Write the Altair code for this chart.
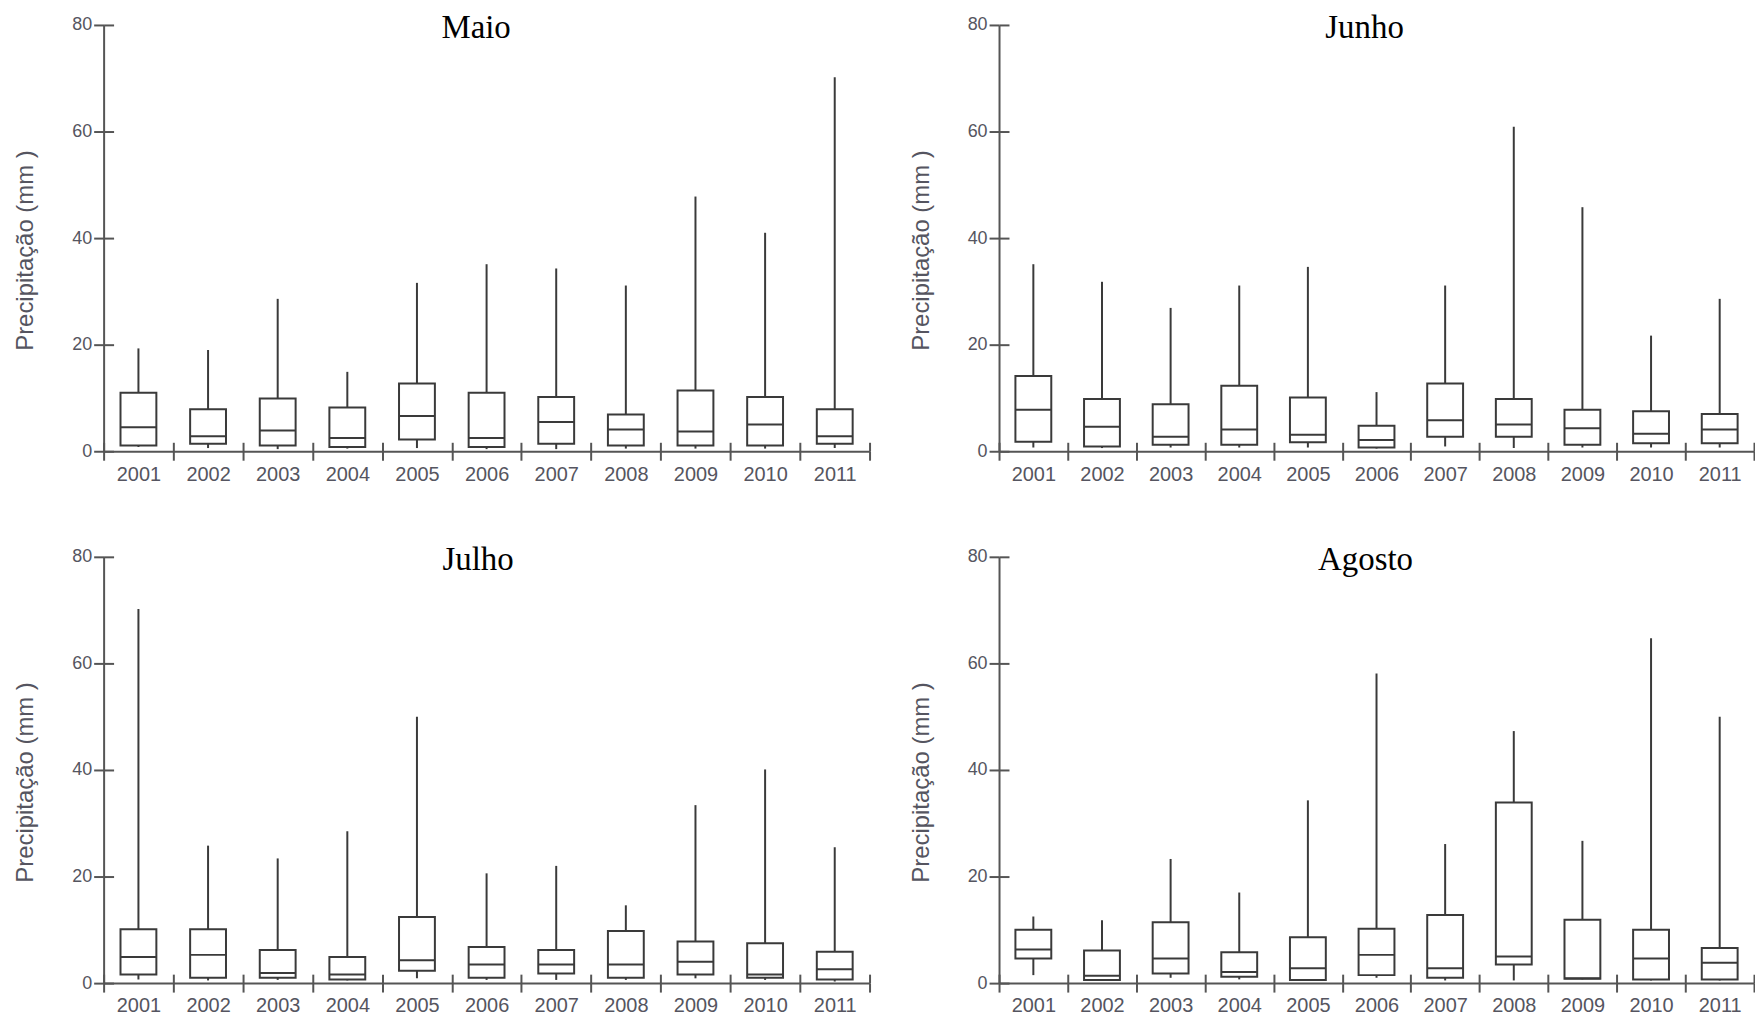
import altair as alt
import pandas as pd

years = [str(y) for y in range(2001, 2012)]
y_ticks = [0, 20, 40, 60, 80]
y_title = "Precipitação  (mm )"

maio_hi = [19.3, 19.0, 28.6, 14.9, 31.6, 35.1, 34.3, 31.1, 47.8, 41.0, 70.2]
maio_q3 = [11.0, 7.9, 9.9, 8.2, 12.7, 11.0, 10.2, 6.9, 11.4, 10.2, 7.9]
maio_med = [4.5, 2.8, 3.9, 2.5, 6.6, 2.5, 5.5, 4.1, 3.7, 5.0, 2.8]
maio_q1 = [1.1, 1.4, 1.1, 0.8, 2.2, 0.8, 1.4, 1.1, 1.1, 1.1, 1.4]
maio_lo = [0.8, 0.6, 0.4, 0.5, 0.6, 0.4, 0.4, 0.5, 0.5, 0.5, 0.6]

junho_hi = [35.1, 31.8, 26.9, 31.1, 34.6, 11.1, 31.1, 60.9, 45.8, 21.7, 28.6]
junho_q3 = [14.1, 9.8, 8.8, 12.3, 10.1, 4.8, 12.7, 9.8, 7.8, 7.5, 7.0]
junho_med = [7.8, 4.6, 2.7, 4.1, 3.1, 2.1, 5.8, 5.0, 4.3, 3.3, 4.1]
junho_q1 = [1.8, 0.9, 1.2, 1.2, 1.7, 0.7, 2.7, 2.7, 1.2, 1.5, 1.5]
junho_lo = [0.7, 0.6, 0.7, 0.7, 0.7, 0.5, 0.9, 0.6, 0.7, 0.7, 0.7]

julho_hi = [70.2, 25.8, 23.4, 28.5, 50.0, 20.6, 22.0, 14.6, 33.4, 40.1, 25.5]
julho_q3 = [10.1, 10.1, 6.2, 4.9, 12.4, 6.8, 6.2, 9.8, 7.8, 7.5, 5.9]
julho_med = [4.9, 5.3, 1.9, 1.6, 4.3, 3.5, 3.5, 3.5, 4.0, 1.6, 2.6]
julho_q1 = [1.6, 1.0, 1.0, 0.7, 2.3, 1.0, 1.8, 1.0, 1.6, 1.0, 0.7]
julho_lo = [0.7, 0.5, 0.6, 0.5, 0.9, 0.6, 0.6, 0.6, 0.9, 0.6, 0.3]

agosto_hi = [12.5, 11.8, 23.3, 17.0, 34.3, 58.1, 26.1, 47.3, 26.7, 64.7, 50.0]
agosto_q3 = [10.0, 6.1, 11.4, 5.8, 8.6, 10.2, 12.8, 33.9, 11.9, 10.0, 6.6]
agosto_med = [6.3, 1.4, 4.6, 2.1, 2.8, 5.3, 2.8, 5.0, 0.9, 4.6, 3.8]
agosto_q1 = [4.6, 0.6, 1.8, 1.2, 0.6, 1.5, 1.0, 3.5, 0.8, 0.7, 0.7]
agosto_lo = [1.5, 0.5, 1.0, 0.7, 0.5, 1.0, 0.5, 0.5, 0.7, 0.5, 0.5]

AXIS_COLOR = "#555555"
BOX_COLOR = "#3a3a3a"
LABEL_COLOR = "#555560"
SANS = "Liberation Sans"
SERIF = "Liberation Serif"
H = 428


def panel(name, lo, q1, med, q3, hi, width, title_x):
    df = pd.DataFrame({"ano": years, "lo": lo, "q1": q1, "med": med, "q3": q3, "hi": hi})
    base = alt.Chart(df)
    xs = alt.Scale(paddingInner=0, paddingOuter=0)
    ys = alt.Scale(domain=[0, 80], nice=False)

    x_main = alt.X(
        "ano:N", sort=years, scale=xs, title=None,
        axis=alt.Axis(
            orient="bottom", tickBand="extent", labelAngle=0, labelFont=SANS,
            labelFontSize=20, labelColor=LABEL_COLOR, labelPadding=4,
            tickSize=9, tickWidth=2, tickColor=AXIS_COLOR,
            domainColor=AXIS_COLOR, domainWidth=2, grid=False,
        ),
    )
    y_main = alt.Y(
        "q1:Q", scale=ys,
        axis=alt.Axis(
            orient="left", values=y_ticks, title=y_title, labelFont=SANS,
            labelFontSize=18, labelColor=LABEL_COLOR, labelPadding=2,
            tickSize=10, tickWidth=2, tickColor=AXIS_COLOR,
            domainColor=AXIS_COLOR, domainWidth=2, grid=False,
            titleFont=SANS, titleFontSize=24, titleFontWeight="normal",
            titleColor=LABEL_COLOR, titleAngle=-90, titleBaseline="bottom",
            titleAlign="center", titleX=-66, titleY=226,
        ),
    )
    x_inner = alt.X(
        "ano:N", sort=years, scale=xs, title=None,
        axis=alt.Axis(
            orient="bottom", offset=-9, tickBand="extent", labels=False,
            domain=False, tickSize=9, tickWidth=2, tickColor=AXIS_COLOR,
            grid=False,
        ),
    )
    y_inner = alt.Y(
        "lo:Q", scale=ys,
        axis=alt.Axis(
            orient="left", offset=-10, values=y_ticks, labels=False,
            domain=False, tickSize=10, tickWidth=2, tickColor=AXIS_COLOR,
            grid=False, title=None,
        ),
    )

    whisk = base.mark_rule(color=BOX_COLOR, strokeWidth=2).encode(
        x=x_inner, y=y_inner, y2="hi:Q"
    )
    box = base.mark_bar(
        fill="white", stroke=BOX_COLOR, strokeWidth=2, size=36
    ).encode(x=x_main, y=y_main, y2="q3:Q")
    median = base.mark_tick(color=BOX_COLOR, size=36, thickness=2, opacity=1).encode(
        x=alt.X("ano:N", sort=years, scale=xs, axis=None),
        y=alt.Y("med:Q", scale=ys, axis=None),
    )
    title = alt.Chart(pd.DataFrame({"mes": [name]})).mark_text(
        font=SERIF, fontSize=33, color="black", align="center", baseline="top"
    ).encode(text="mes:N", x=alt.value(title_x), y=alt.value(-13))
    return (
        alt.layer(whisk, box, median, title)
        .resolve_axis(x="independent", y="independent")
        .properties(width=width, height=H)
    )


p1 = panel("Maio", maio_lo, maio_q1, maio_med, maio_q3, maio_hi, 769, 374)
p2 = panel("Junho", junho_lo, junho_q1, junho_med, junho_q3, junho_hi, 758, 367)
p3 = panel("Julho", julho_lo, julho_q1, julho_med, julho_q3, julho_hi, 769, 376)
p4 = panel("Agosto", agosto_lo, agosto_q1, agosto_med, agosto_q3, agosto_hi, 758, 368)

chart = (
    alt.vconcat(
        alt.hconcat(p1, p2, spacing=39),
        alt.hconcat(p3, p4, spacing=39),
        spacing=60,
    )
    .properties(
        padding={"left": 6, "top": 2, "right": 0, "bottom": 0},
        background="white",
    )
    .configure_view(strokeWidth=0)
)

chart.save("out.html", embed_options={"renderer": "svg", "actions": False})
